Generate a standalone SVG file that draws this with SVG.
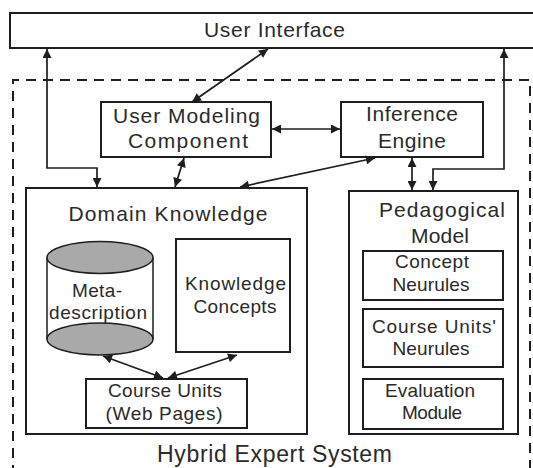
<svg xmlns="http://www.w3.org/2000/svg" width="533" height="468" viewBox="0 0 533 468">
<style>
.box{fill:#fff;stroke:#1e1e1e;stroke-width:2}
.dash{fill:none;stroke:#1e1e1e;stroke-width:2;stroke-dasharray:10 7}
.con{fill:none;stroke:#1e1e1e;stroke-width:1.7}
.cyl{fill:#a9a9a9;stroke:#1e1e1e;stroke-width:1.5}
text{font-family:"Liberation Sans",Arial,sans-serif;fill:#2a2a2a;text-anchor:middle}
.h{font-size:21px}
.b{font-size:19px}
.big{font-size:23px}
</style>
<defs>
<marker id="ah" viewBox="0 0 10 10" refX="10" refY="5" markerWidth="10" markerHeight="9" markerUnits="userSpaceOnUse" orient="auto-start-reverse">
<path d="M0,0 L10,5 L0,10 z" fill="#1e1e1e"/>
</marker>
</defs>
<rect width="533" height="468" fill="#fff"/>

<g id="user-interface">
<rect class="box" x="10" y="13" width="540" height="35"/>
<text class="h" x="274.5" y="37" textLength="141" lengthAdjust="spacing">User Interface</text>
</g>

<g id="hybrid-expert-system">
<path class="dash" d="M13,475 V80 H530 V475"/>
<text class="big" x="274.5" y="462" textLength="235" lengthAdjust="spacing">Hybrid Expert System</text>
</g>

<g id="user-modeling">
<rect class="box" x="101" y="102" width="170" height="55"/>
<text class="h" x="186.5" y="123" textLength="147" lengthAdjust="spacing">User Modeling</text>
<text class="h" x="188" y="148" textLength="120" lengthAdjust="spacing">Component</text>
</g>

<g id="inference-engine">
<rect class="box" x="341" y="102" width="142" height="55"/>
<text class="h" x="412" y="121" textLength="92" lengthAdjust="spacing">Inference</text>
<text class="h" x="412" y="148" textLength="68" lengthAdjust="spacing">Engine</text>
</g>

<g id="domain-knowledge">
<rect class="box" x="26" y="188" width="281" height="246"/>
<text class="h" x="168" y="221" textLength="199" lengthAdjust="spacing">Domain Knowledge</text>
</g>

<g id="meta-description">
<rect x="47" y="257.5" width="106" height="81.5" fill="#fff"/>
<ellipse class="cyl" cx="100" cy="339" rx="53" ry="16"/>
<path class="con" d="M47,257.5 V339 M153,257.5 V339" style="stroke-width:1.5"/>
<ellipse class="cyl" cx="100" cy="257.5" rx="53" ry="16"/>
<text class="b" x="97" y="297" textLength="50" lengthAdjust="spacing">Meta-</text>
<text class="b" x="98" y="319" textLength="98" lengthAdjust="spacing">description</text>
</g>

<g id="knowledge-concepts">
<rect class="box" x="176" y="239" width="114" height="113"/>
<text class="b" x="235.5" y="290" textLength="101" lengthAdjust="spacing">Knowledge</text>
<text class="b" x="235" y="313" textLength="83" lengthAdjust="spacing">Concepts</text>
</g>

<g id="course-units">
<rect class="box" x="86" y="379" width="161" height="49"/>
<text class="b" x="165" y="397" textLength="114" lengthAdjust="spacing">Course Units</text>
<text class="b" x="164" y="420" textLength="117" lengthAdjust="spacing">(Web Pages)</text>
</g>

<g id="pedagogical-model">
<rect class="box" x="349" y="191" width="169" height="243"/>
<text class="h" x="442" y="217" textLength="126" lengthAdjust="spacing">Pedagogical</text>
<text class="h" x="440" y="243" textLength="58" lengthAdjust="spacing">Model</text>
</g>

<g id="concept-neurules">
<rect class="box" x="363" y="251" width="140" height="49"/>
<text class="b" x="432" y="268" textLength="74" lengthAdjust="spacing">Concept</text>
<text class="b" x="431" y="291" textLength="77" lengthAdjust="spacing">Neurules</text>
</g>

<g id="course-units-neurules">
<rect class="box" x="363" y="309" width="140" height="58"/>
<text class="b" x="434" y="333" textLength="124" lengthAdjust="spacing">Course Units'</text>
<text class="b" x="431" y="355" textLength="77" lengthAdjust="spacing">Neurules</text>
</g>

<g id="evaluation-module">
<rect class="box" x="363" y="379" width="140" height="50"/>
<text class="b" x="430" y="397" textLength="90" lengthAdjust="spacing">Evaluation</text>
<text class="b" x="432" y="419" textLength="60" lengthAdjust="spacing">Module</text>
</g>

<g id="connectors">
<line class="con" x1="268" y1="49" x2="192" y2="102" marker-start="url(#ah)" marker-end="url(#ah)"/>
<line class="con" x1="272" y1="129" x2="340" y2="129" marker-start="url(#ah)" marker-end="url(#ah)"/>
<path class="con" d="M47,49 V168 H97 V187" marker-start="url(#ah)" marker-end="url(#ah)"/>
<line class="con" x1="184" y1="158" x2="175" y2="187" marker-start="url(#ah)" marker-end="url(#ah)"/>
<line class="con" x1="375" y1="158" x2="240" y2="187" marker-start="url(#ah)" marker-end="url(#ah)"/>
<line class="con" x1="412" y1="158" x2="412" y2="190" marker-start="url(#ah)" marker-end="url(#ah)"/>
<path class="con" d="M504,49 V169 H433 V190" marker-start="url(#ah)" marker-end="url(#ah)"/>
<line class="con" x1="103" y1="356" x2="163" y2="378" marker-start="url(#ah)" marker-end="url(#ah)"/>
<line class="con" x1="237" y1="355" x2="168" y2="378" marker-start="url(#ah)" marker-end="url(#ah)"/>
</g>
</svg>
